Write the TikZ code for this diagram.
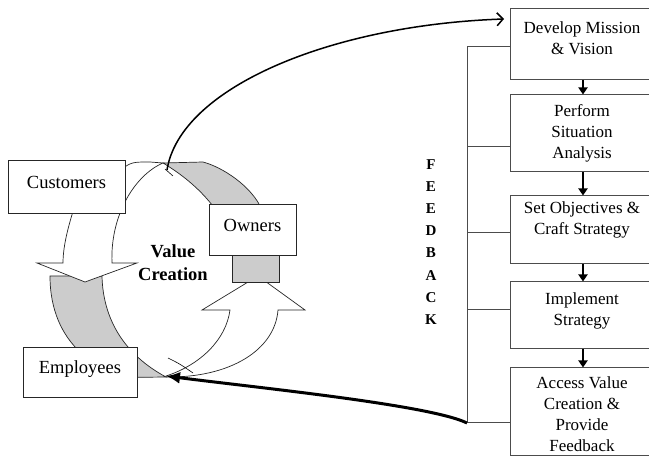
\documentclass[tikz,border=0pt]{standalone}
\usepackage{fontspec}
\setmainfont{Liberation Serif}
\usetikzlibrary{arrows.meta}
\definecolor{bandgray}{gray}{0.8}
\definecolor{linegray}{gray}{0.3}

\begin{document}
\begin{tikzpicture}[x=1pt, y=-1pt,
	lbox/.style={draw=black!85, fill=white, line width=0.9pt, inner sep=0pt, text height=12pt, text depth=8pt, font=\fontsize{18.5}{22}\selectfont},
	rbox/.style={draw=linegray, fill=white, line width=1pt, minimum width=146pt, inner sep=0pt},
	rtext/.style={align=center, inner sep=0pt, font=\fontsize{17}{20.8}\selectfont},
	band/.style={fill=bandgray, draw=black!85, line width=0.7pt},
	arrw/.style={fill=white, draw=black!85, line width=0.7pt},
	fbline/.style={draw=linegray, line width=1pt},
	stepar/.style={line width=1.8pt, -{Triangle[length=7pt,width=9pt]}}]
				\useasboundingbox (0,0) rectangle (649,457);

				% Value ring, gray parts
				\draw[band] (163,163) -- (203,162) .. controls (222,167) and (252,186) .. (262,210) -- (262,255) -- (232,255) .. controls (232,220) and (200,185) .. (163,163) -- cycle;
				\draw[band] (50,276) .. controls (50,310) and (62,335) .. (80,352) -- (80,378) -- (166,377) .. controls (125,355) and (103,320) .. (102,276) -- cycle;

				% Value ring, white arrows
				\draw[arrw] (163,163) -- (150,162) .. controls (132,162) .. (120,170) -- (75,205) .. controls (67,230) and (63,248) .. (63,263) -- (37,263) -- (85,282) -- (137,263) -- (112,263) .. controls (110,215) and (135,175) .. (163,163) -- cycle;
				\draw[arrw] (166,377) .. controls (230,378) and (275,350) .. (278,310) -- (305,310) -- (258,276) -- (202,310) -- (230,310) .. controls (226,340) and (200,365) .. (166,376) -- cycle;
				\draw[band] (232,250) rectangle (279,282);
				\draw[line width=0.6pt] (165,169) -- (173,176);
				\draw[line width=0.6pt] (168,358) .. controls (180,364) .. (193,373);

				% Stakeholders
				\node[lbox, minimum width=117pt, minimum height=53pt] (customers) at (66.5,186.5) {Customers};
				\node[lbox, minimum width=87pt, minimum height=51pt] (owners) at (252.5,229.5) {Owners};
				\node[lbox, minimum width=114pt, minimum height=50pt] (employees) at (80,372) {Employees};
				\node[font=\fontsize{18.5}{23}\selectfont\bfseries, align=center, inner sep=0pt] (value) at (173,262.5) {Value\\Creation};

				% Process steps
				\node[rbox, minimum height=71pt] (mission) at (583,44.5) {};
				\node[rbox, minimum height=77pt] (situation) at (583,133.5) {};
				\node[rbox, minimum height=68pt] (strategy) at (583,230) {};
				\node[rbox, minimum height=67pt] (implement) at (583,315.5) {};
				\node[rbox, minimum height=88pt] (assess) at (583,412) {};
				\node[rtext] (missiontxt) at (582,38) {Develop Mission\\\& Vision};
				\node[rtext] (situationtxt) at (582,133.5) {Perform\\Situation\\Analysis};
				\node[rtext] (strategytxt) at (582,220) {Set Objectives \&\\Craft Strategy};
				\node[rtext] (implementtxt) at (582,311) {Implement\\Strategy};
				\node[rtext] (assesstxt) at (582,414) {Access Value\\Creation \&\\Provide\\Feedback};
				\draw[stepar] (mission) -- (situation);
				\draw[stepar] (situation) -- (strategy);
				\draw[stepar] (strategy) -- (implement);
				\draw[stepar] (implement) -- (assess);

				% Feedback
				\node[font=\fontsize{15}{22.1}\selectfont\bfseries, align=center, inner sep=0pt] (feedback) at (431,242) {F\\E\\E\\D\\B\\A\\C\\K};
				\coordinate (fbtop) at (467,47);
				\coordinate (fbbot) at (467,423);
				\draw[fbline] (fbtop) -- (fbbot);
				\foreach \yy/\nd in {47/mission,147/situation,233/strategy,310/implement,423/assess}
					\draw[fbline] (467,\yy) -- (\nd.west |- 467,\yy);

				% Links
				\coordinate (ringtop) at (167,170);
				\coordinate (missionin) at (504,19);
				\coordinate (ringbot) at (166,376);
				\draw[line width=1.5pt, -{Straight Barb[length=6pt,width=13pt]}] (ringtop) .. controls (180,88) and (330,25) .. (missionin);
				\draw[line width=3pt, -{Latex[length=14pt,width=12pt]}] (fbbot) .. controls (430,405) and (260,388) .. (ringbot);
			\end{tikzpicture}
\end{document}
